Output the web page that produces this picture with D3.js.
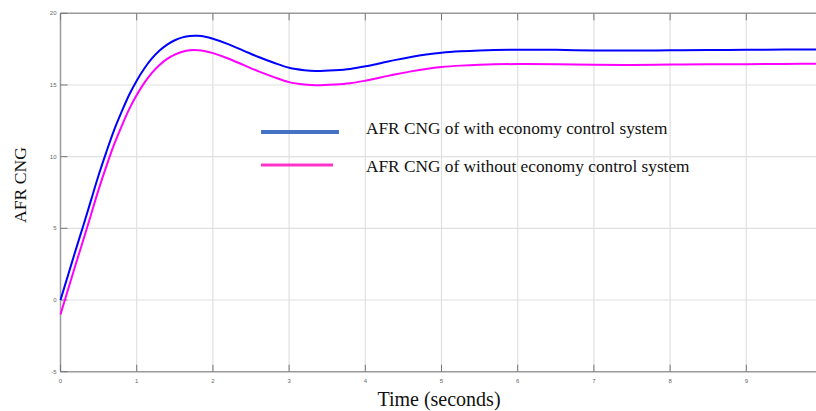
<!DOCTYPE html>
<html><head><meta charset="utf-8">
<script src="https://cdn.jsdelivr.net/npm/d3@7"></script>
<style>body{margin:0;background:#fff}svg{display:block}</style>
</head><body>
<script>
const timeS = [0,0.1,0.2,0.3,0.4,0.5,0.6,0.7,0.8,0.9,1.0,1.1,1.2,1.3,1.4,1.5,1.6,1.7,1.8,1.9,2.0,2.2,2.4,2.6,2.8,3.0,3.2,3.35,3.6,3.8,4.0,4.2,4.4,4.6,4.8,5.0,5.25,5.5,6.0,6.5,7.0,7.5,8.0,8.5,9.0,9.5,10];
const withEconomy = [0,1.75,3.5,5.2,6.95,8.7,10.3,11.8,13.1,14.3,15.3,16.15,16.85,17.4,17.82,18.12,18.32,18.42,18.43,18.36,18.22,17.85,17.4,16.95,16.55,16.2,16.03,15.98,16.03,16.12,16.3,16.52,16.75,16.95,17.12,17.25,17.35,17.41,17.46,17.45,17.41,17.4,17.42,17.44,17.45,17.47,17.48];
const withoutEconomy = [-1,0.75,2.5,4.2,5.95,7.7,9.3,10.8,12.1,13.3,14.3,15.15,15.85,16.4,16.82,17.12,17.32,17.42,17.43,17.36,17.22,16.85,16.4,15.95,15.55,15.2,15.03,14.98,15.03,15.12,15.3,15.52,15.75,15.95,16.12,16.25,16.35,16.41,16.46,16.45,16.41,16.4,16.42,16.44,16.45,16.47,16.48];
const xTicks = [0,1,2,3,4,5,6,7,8,9];
const yTicks = [-5,0,5,10,15,20];
const seriesNames = ["AFR CNG of with economy control system","AFR CNG of without economy control system"];

const W=816,H=411;
const svg=d3.select("body").append("svg").attr("width",W).attr("height",H);
const x=d3.scaleLinear().domain([0,10]).range([60.5,822.5]);
const y=d3.scaleLinear().domain([-5,20]).range([371.7,13.3]);

// grid
svg.append("g").selectAll("line").data(xTicks.slice(1)).join("line")
 .attr("x1",d=>x(d)).attr("x2",d=>x(d)).attr("y1",y(20)).attr("y2",y(-5))
 .attr("stroke","#e0e0e0").attr("stroke-width",1.2);
svg.append("g").selectAll("line").data(yTicks.slice(1,-1)).join("line")
 .attr("x1",x(0)).attr("x2",W).attr("y1",d=>y(d)).attr("y2",d=>y(d))
 .attr("stroke","#e0e0e0").attr("stroke-width",1.2);

// axes frame
const ax="#9a9a9a";
svg.append("line").attr("x1",x(0)).attr("x2",W).attr("y1",y(20)).attr("y2",y(20)).attr("stroke",ax).attr("stroke-width",1.5);
svg.append("line").attr("x1",x(0)).attr("x2",W).attr("y1",y(-5)).attr("y2",y(-5)).attr("stroke",ax).attr("stroke-width",1.5);
svg.append("line").attr("x1",x(0)).attr("x2",x(0)).attr("y1",y(20)).attr("y2",y(-5)).attr("stroke",ax).attr("stroke-width",1.5);

// tick marks
svg.append("g").selectAll("line").data(xTicks).join("line")
 .attr("x1",d=>x(d)).attr("x2",d=>x(d)).attr("y1",y(-5)).attr("y2",y(-5)-7).attr("stroke","#777").attr("stroke-width",1);
svg.append("g").selectAll("line").data(xTicks).join("line")
 .attr("x1",d=>x(d)).attr("x2",d=>x(d)).attr("y1",y(20)).attr("y2",y(20)+7).attr("stroke","#777").attr("stroke-width",1);
svg.append("g").selectAll("line").data(yTicks).join("line")
 .attr("x1",x(0)).attr("x2",x(0)+7).attr("y1",d=>y(d)).attr("y2",d=>y(d)).attr("stroke","#777").attr("stroke-width",1);

// tick labels
svg.append("g").selectAll("text").data(xTicks).join("text")
 .attr("x",d=>x(d)).attr("y",y(-5)+11).attr("text-anchor","middle")
 .attr("font-family","Arial, Liberation Sans, sans-serif").attr("font-size",6).attr("fill","#666").text(d=>d);
svg.append("g").selectAll("text").data(yTicks).join("text")
 .attr("x",x(0)-4).attr("y",d=>y(d)+2).attr("text-anchor","end")
 .attr("font-family","Arial, Liberation Sans, sans-serif").attr("font-size",6).attr("fill","#666").text(d=>d);

// lines
const line=d3.line().x((d,i)=>x(timeS[i])).y(d=>y(d)).curve(d3.curveCatmullRom.alpha(0.5));
svg.append("path").attr("d",line(withoutEconomy)).attr("fill","none").attr("stroke","#ff00ff").attr("stroke-width",2);
svg.append("path").attr("d",line(withEconomy)).attr("fill","none").attr("stroke","#0000ff").attr("stroke-width",2);

// legend
svg.append("line").attr("x1",261).attr("x2",339).attr("y1",132).attr("y2",132).attr("stroke","#4472c4").attr("stroke-width",4);
svg.append("line").attr("x1",261).attr("x2",333).attr("y1",165).attr("y2",165).attr("stroke","#ff33cc").attr("stroke-width",3);
svg.append("text").attr("x",366).attr("y",134).attr("font-family","Liberation Serif, Times New Roman, serif").attr("font-size",17.3).attr("fill","#111").text(seriesNames[0]);
svg.append("text").attr("x",366).attr("y",172).attr("font-family","Liberation Serif, Times New Roman, serif").attr("font-size",17.3).attr("fill","#111").text(seriesNames[1]);

// axis titles
svg.append("text").attr("x",439).attr("y",406).attr("text-anchor","middle").attr("font-family","Liberation Serif, Times New Roman, serif").attr("font-size",20).attr("fill","#111").text("Time (seconds)");
svg.append("text").attr("transform","translate(26,185) rotate(-90)").attr("text-anchor","middle").attr("font-family","Liberation Serif, Times New Roman, serif").attr("font-size",17.7).attr("fill","#111").text("AFR CNG");
</script>
</body></html>
